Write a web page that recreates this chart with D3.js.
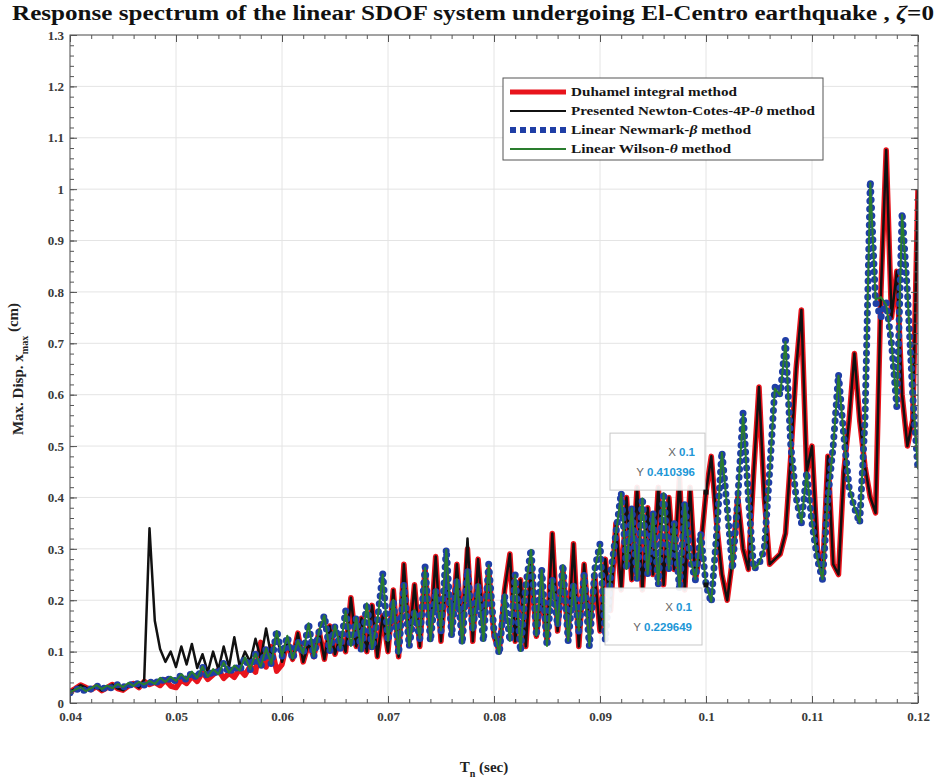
<!DOCTYPE html>
<html>
<head>
<meta charset="utf-8">
<script src="https://cdn.jsdelivr.net/npm/d3@7/dist/d3.min.js"></script>
<style>
  body { margin: 0; background: #fff; }
  svg { display: block; }
</style>
</head>
<body>
<svg id="chart" width="941" height="782"></svg>
<script>
// Natural periods Tn (sec): 0.04 ... 0.12 in steps of 0.0005
const periods = d3.range(161).map(i => +(0.04 + i * 0.0005).toFixed(4));

// Maximum displacement x_max (cm) for each method, one value per period
const duhamel = [
  0.022,0.028,0.035,0.030,0.026,0.032,0.024,0.030,0.036,0.028,0.025,0.033,0.038,0.030,0.042,0.036,0.040,0.034,0.045,0.033,
  0.030,0.045,0.038,0.052,0.042,0.060,0.046,0.055,0.064,0.048,0.058,0.050,0.066,0.054,0.072,0.060,0.118,0.070,0.110,0.062,
  0.075,0.120,0.085,0.136,0.080,0.115,0.090,0.140,0.085,0.150,0.095,0.130,0.100,0.205,0.110,0.165,0.100,0.190,0.090,0.170,
  0.100,0.220,0.090,0.270,0.120,0.230,0.110,0.260,0.130,0.285,0.120,0.250,0.140,0.270,0.130,0.300,0.120,0.280,0.150,0.260,
  0.130,0.100,0.220,0.290,0.120,0.240,0.110,0.270,0.130,0.220,0.120,0.330,0.140,0.260,0.130,0.310,0.110,0.270,0.140,0.250,
  0.140,0.280,0.180,0.350,0.220,0.400,0.240,0.420,0.220,0.380,0.250,0.420,0.230,0.400,0.260,0.440,0.220,0.420,0.240,0.300,
  0.410396,0.480,0.350,0.250,0.200,0.280,0.400,0.300,0.260,0.450,0.615,0.400,0.270,0.280,0.290,0.330,0.480,0.650,0.765,0.450,
  0.500,0.300,0.250,0.480,0.270,0.250,0.450,0.550,0.680,0.550,0.460,0.400,0.370,0.800,1.076,0.750,0.840,0.600,0.500,0.550,1.000
];

const newtonCotes = [
  0.022,0.028,0.035,0.030,0.026,0.032,0.024,0.030,0.036,0.028,0.025,0.033,0.038,0.030,0.045,0.340,0.160,0.105,0.080,0.100,
  0.070,0.110,0.075,0.115,0.068,0.095,0.060,0.100,0.065,0.110,0.070,0.128,0.072,0.100,0.080,0.125,0.085,0.145,0.090,0.135,
  0.080,0.120,0.085,0.136,0.080,0.115,0.090,0.140,0.085,0.150,0.095,0.130,0.100,0.205,0.110,0.165,0.100,0.190,0.090,0.170,
  0.100,0.220,0.090,0.270,0.120,0.230,0.110,0.260,0.130,0.285,0.120,0.250,0.140,0.270,0.130,0.320,0.120,0.280,0.150,0.260,
  0.130,0.100,0.220,0.290,0.120,0.240,0.110,0.270,0.130,0.220,0.120,0.330,0.140,0.260,0.130,0.310,0.110,0.270,0.140,0.250,
  0.140,0.280,0.180,0.350,0.220,0.400,0.240,0.420,0.220,0.380,0.250,0.420,0.230,0.400,0.260,0.440,0.220,0.420,0.240,0.300,
  0.410396,0.480,0.350,0.250,0.200,0.280,0.400,0.300,0.260,0.450,0.615,0.400,0.270,0.280,0.290,0.330,0.480,0.650,0.765,0.450,
  0.500,0.300,0.250,0.480,0.270,0.250,0.450,0.550,0.680,0.550,0.460,0.400,0.370,0.800,1.076,0.750,0.840,0.600,0.500,0.550,1.000
];

const newmark = [
  0.020,0.025,0.030,0.022,0.028,0.034,0.026,0.033,0.028,0.036,0.030,0.038,0.032,0.040,0.035,0.042,0.036,0.048,0.040,0.050,
  0.042,0.055,0.045,0.060,0.048,0.070,0.050,0.065,0.055,0.078,0.058,0.072,0.062,0.088,0.065,0.095,0.070,0.105,0.075,0.142,
  0.090,0.130,0.085,0.120,0.095,0.156,0.090,0.140,0.171,0.100,0.150,0.105,0.180,0.110,0.165,0.100,0.195,0.105,0.160,0.253,
  0.120,0.200,0.095,0.230,0.110,0.180,0.125,0.265,0.120,0.220,0.140,0.300,0.130,0.240,0.115,0.260,0.140,0.230,0.120,0.270,
  0.140,0.095,0.210,0.120,0.250,0.100,0.230,0.300,0.130,0.260,0.110,0.240,0.150,0.270,0.120,0.230,0.140,0.250,0.110,0.260,
  0.310,0.122,0.250,0.330,0.410,0.260,0.380,0.240,0.400,0.250,0.370,0.230,0.410,0.260,0.350,0.220,0.390,0.280,0.240,0.330,
  0.229649,0.195,0.330,0.490,0.380,0.260,0.400,0.565,0.400,0.260,0.270,0.300,0.450,0.615,0.600,0.706,0.500,0.400,0.350,0.450,
  0.350,0.280,0.240,0.400,0.500,0.640,0.520,0.420,0.380,0.350,0.550,1.017,0.780,0.750,0.780,0.700,0.576,0.955,0.800,0.600,0.453
];

const wilson = [
  0.021,0.026,0.031,0.023,0.029,0.035,0.027,0.034,0.029,0.037,0.031,0.039,0.033,0.041,0.036,0.043,0.037,0.049,0.041,0.051,
  0.043,0.056,0.046,0.061,0.049,0.071,0.051,0.066,0.056,0.079,0.059,0.073,0.063,0.089,0.066,0.096,0.071,0.106,0.076,0.140,
  0.091,0.131,0.086,0.121,0.096,0.155,0.091,0.141,0.170,0.101,0.151,0.106,0.179,0.111,0.166,0.101,0.194,0.106,0.161,0.250,
  0.121,0.201,0.096,0.231,0.111,0.181,0.126,0.263,0.121,0.221,0.141,0.298,0.131,0.241,0.116,0.259,0.141,0.231,0.121,0.268,
  0.141,0.096,0.211,0.121,0.249,0.101,0.231,0.298,0.131,0.259,0.111,0.241,0.151,0.268,0.121,0.231,0.141,0.249,0.111,0.259,
  0.308,0.123,0.251,0.329,0.408,0.261,0.379,0.241,0.398,0.251,0.369,0.231,0.408,0.261,0.349,0.221,0.388,0.281,0.241,0.329,
  0.231,0.197,0.331,0.487,0.379,0.261,0.399,0.562,0.399,0.261,0.271,0.301,0.449,0.612,0.599,0.703,0.499,0.401,0.351,0.449,
  0.351,0.281,0.241,0.401,0.499,0.637,0.519,0.421,0.381,0.351,0.551,1.012,0.785,0.790,0.775,0.702,0.578,0.950,0.801,0.601,0.455
];

// Axis ticks
const xTicks = [0.04, 0.05, 0.06, 0.07, 0.08, 0.09, 0.1, 0.11, 0.12];
const xTickLabels = ["0.04", "0.05", "0.06", "0.07", "0.08", "0.09", "0.1", "0.11", "0.12"];
const yTicks = [0, 0.1, 0.2, 0.3, 0.4, 0.5, 0.6, 0.7, 0.8, 0.9, 1, 1.1, 1.2, 1.3];
const yTickLabels = ["0", "0.1", "0.2", "0.3", "0.4", "0.5", "0.6", "0.7", "0.8", "0.9", "1", "1.1", "1.2", "1.3"];

// Legend entries (name, Greek symbol, suffix)
const legendNames = [
  ["Duhamel integral method", "", ""],
  ["Presented Newton-Cotes-4P-", "θ", " method"],
  ["Linear Newmark-", "β", " method"],
  ["Linear Wilson-", "θ", " method"]
];

// Data-cursor readouts
const tipX = [0.1, 0.1];
const tipY = [0.410396, 0.229649];

// ---------------------------------------------------------------
const svg = d3.select("#chart");
const box = { left: 70, right: 918, top: 35, bottom: 703 };

const x = d3.scaleLinear().domain([0.04, 0.12]).range([box.left, box.right]);
const y = d3.scaleLinear().domain([0, 1.3]).range([box.bottom, box.top]);

const serif = "'Liberation Serif', 'Times New Roman', serif";
const sans = "'Liberation Sans', Arial, sans-serif";

svg.append("rect").attr("width", 941).attr("height", 782).attr("fill", "#fff");

// grid
const grid = svg.append("g").attr("stroke", "#e4e4e4").attr("stroke-width", 1);
grid.selectAll("line.v").data(xTicks).join("line")
  .attr("x1", d => x(d)).attr("x2", d => x(d))
  .attr("y1", box.top).attr("y2", box.bottom);
grid.selectAll("line.h").data(yTicks).join("line")
  .attr("x1", box.left).attr("x2", box.right)
  .attr("y1", d => y(d)).attr("y2", d => y(d));

svg.append("clipPath").attr("id", "plotClip")
  .append("rect").attr("x", box.left).attr("y", box.top)
  .attr("width", box.right - box.left).attr("height", box.bottom - box.top);

const plot = svg.append("g").attr("clip-path", "url(#plotClip)");
const line = vals => d3.line().x((d, i) => x(periods[i])).y(d => y(d))(vals);

// Duhamel integral (red, thick)
plot.append("path").attr("d", line(duhamel))
  .attr("fill", "none").attr("stroke", "#e8141c").attr("stroke-width", 5.5)
  .attr("stroke-linejoin", "round");
// Newton-Cotes 4P-theta (black)
plot.append("path").attr("d", line(newtonCotes))
  .attr("fill", "none").attr("stroke", "#111").attr("stroke-width", 2.5)
  .attr("stroke-linejoin", "round");
// Linear Newmark-beta (blue, heavy dotted)
plot.append("path").attr("d", line(newmark))
  .attr("fill", "none").attr("stroke", "#1f3ea6").attr("stroke-width", 7)
  .attr("stroke-linecap", "round").attr("stroke-dasharray", "0 8");
// Linear Wilson-theta (green)
plot.append("path").attr("d", line(wilson))
  .attr("fill", "none").attr("stroke", "#2a7d2e").attr("stroke-width", 2)
  .attr("stroke-linejoin", "round");

// axes box with inward major / minor ticks on all sides
const axisColor = "#555";
const xMinor = d3.range(0.04, 0.12001, 0.002);
const yMinor = d3.range(0, 1.30001, 0.02);

function styleAxis(g) {
  g.select(".domain").remove();
  g.selectAll(".tick line").attr("stroke", axisColor);
}

svg.append("g").attr("transform", `translate(0,${box.bottom})`)
  .call(d3.axisBottom(x).tickValues(xMinor).tickSize(-4).tickFormat(""))
  .call(styleAxis);
svg.append("g").attr("transform", `translate(0,${box.top})`)
  .call(d3.axisTop(x).tickValues(xMinor).tickSize(-4).tickFormat(""))
  .call(styleAxis);
svg.append("g").attr("transform", `translate(${box.left},0)`)
  .call(d3.axisLeft(y).tickValues(yMinor).tickSize(-4).tickFormat(""))
  .call(styleAxis);
svg.append("g").attr("transform", `translate(${box.right},0)`)
  .call(d3.axisRight(y).tickValues(yMinor).tickSize(-4).tickFormat(""))
  .call(styleAxis);

const xAxis = svg.append("g").attr("transform", `translate(0,${box.bottom})`)
  .call(d3.axisBottom(x).tickValues(xTicks).tickSize(-7).tickPadding(9)
    .tickFormat((d, i) => xTickLabels[i]))
  .call(styleAxis);
svg.append("g").attr("transform", `translate(0,${box.top})`)
  .call(d3.axisTop(x).tickValues(xTicks).tickSize(-7).tickFormat(""))
  .call(styleAxis);
const yAxis = svg.append("g").attr("transform", `translate(${box.left},0)`)
  .call(d3.axisLeft(y).tickValues(yTicks).tickSize(-7).tickPadding(6)
    .tickFormat((d, i) => yTickLabels[i]))
  .call(styleAxis);
svg.append("g").attr("transform", `translate(${box.right},0)`)
  .call(d3.axisRight(y).tickValues(yTicks).tickSize(-7).tickFormat(""))
  .call(styleAxis);

[xAxis, yAxis].forEach(g => g.selectAll(".tick text")
  .attr("font-family", serif).attr("font-weight", "bold")
  .attr("font-size", 13).attr("fill", "#3a3a3a"));

svg.append("rect").attr("x", box.left).attr("y", box.top)
  .attr("width", box.right - box.left).attr("height", box.bottom - box.top)
  .attr("fill", "none").attr("stroke", axisColor).attr("stroke-width", 1);

// legend
const lg = svg.append("g").attr("font-family", serif).attr("font-weight", "bold")
  .attr("font-size", 13).attr("fill", "#151515");
lg.append("rect").attr("x", 503).attr("y", 78).attr("width", 320).attr("height", 82)
  .attr("fill", "#fff").attr("stroke", "#555").attr("stroke-width", 1);
const legendStyles = [
  { stroke: "#e8141c", width: 5, dash: null, len: 166 },
  { stroke: "#111", width: 2, dash: null, len: 244 },
  { stroke: "#1f3ea6", width: 6, dash: "6 4", len: 180 },
  { stroke: "#2a7d2e", width: 2, dash: null, len: 160 }
];
legendNames.forEach((n, i) => {
  const ly = 92 + i * 19;
  const st = legendStyles[i];
  lg.append("line").attr("x1", 510).attr("x2", 566).attr("y1", ly).attr("y2", ly)
    .attr("stroke", st.stroke).attr("stroke-width", st.width)
    .attr("stroke-dasharray", st.dash);
  const t = lg.append("text").attr("x", 571).attr("y", ly + 4)
    .attr("textLength", st.len).attr("lengthAdjust", "spacingAndGlyphs");
  t.append("tspan").text(n[0]);
  if (n[1]) t.append("tspan").attr("font-style", "italic").text(n[1]);
  if (n[2]) t.append("tspan").text(n[2]);
});

// data-cursor readouts
const tipBoxes = [
  { dx0: -96, dx1: -1, dy0: -59, dy1: -2 },
  { dx0: -101, dx1: -4, dy0: 3, dy1: 60 }
];
tipX.forEach((tx, i) => {
  const px = x(tx), py = y(tipY[i]);
  const b = tipBoxes[i];
  const g = svg.append("g");
  g.append("rect").attr("x", px + b.dx0).attr("y", py + b.dy0)
    .attr("width", b.dx1 - b.dx0).attr("height", b.dy1 - b.dy0)
    .attr("fill", "#fff").attr("fill-opacity", 0.92)
    .attr("stroke", "#c8c8c8").attr("stroke-width", 1);
  const tx0 = px + b.dx1 - 10;
  const ty0 = py + b.dy0 + 23;
  const rows = [["X ", String(tx)], ["Y ", String(tipY[i])]];
  rows.forEach((r, k) => {
    const t = g.append("text").attr("x", tx0).attr("y", ty0 + k * 20)
      .attr("text-anchor", "end").attr("font-family", sans).attr("font-size", 11.5);
    t.append("tspan").attr("fill", "#666").text(r[0]);
    t.append("tspan").attr("fill", "#2196d6").attr("font-weight", "bold").text(r[1]);
  });
  g.append("rect").attr("x", px - 2.5).attr("y", py - 2.5).attr("width", 5).attr("height", 5)
    .attr("fill", "#111");
});

// title
const title = svg.append("text").attr("x", 473).attr("y", 20).attr("text-anchor", "middle")
  .attr("font-family", serif).attr("font-weight", "bold").attr("font-size", 20)
  .attr("fill", "#111")
  .attr("textLength", 922).attr("lengthAdjust", "spacingAndGlyphs");
title.append("tspan").text("Response spectrum of the linear SDOF system undergoing El-Centro earthquake ,  ");
title.append("tspan").attr("font-style", "italic").text("ζ");
title.append("tspan").text("=0");

// axis labels
const xl = svg.append("text").attr("x", 484).attr("y", 772).attr("text-anchor", "middle")
  .attr("font-family", serif).attr("font-weight", "bold").attr("font-size", 15).attr("fill", "#222");
xl.append("tspan").text("T");
xl.append("tspan").attr("dy", 5).attr("font-size", 10).text("n");
xl.append("tspan").attr("dy", -5).text(" (sec)");

const yl = svg.append("text").attr("transform", "translate(23,369) rotate(-90)")
  .attr("text-anchor", "middle")
  .attr("font-family", serif).attr("font-weight", "bold").attr("font-size", 15).attr("fill", "#222");
yl.append("tspan").text("Max. Disp. x");
yl.append("tspan").attr("dy", 5).attr("font-size", 10).text("max");
yl.append("tspan").attr("dy", -10).text(" (cm)");
</script>
</body>
</html>
